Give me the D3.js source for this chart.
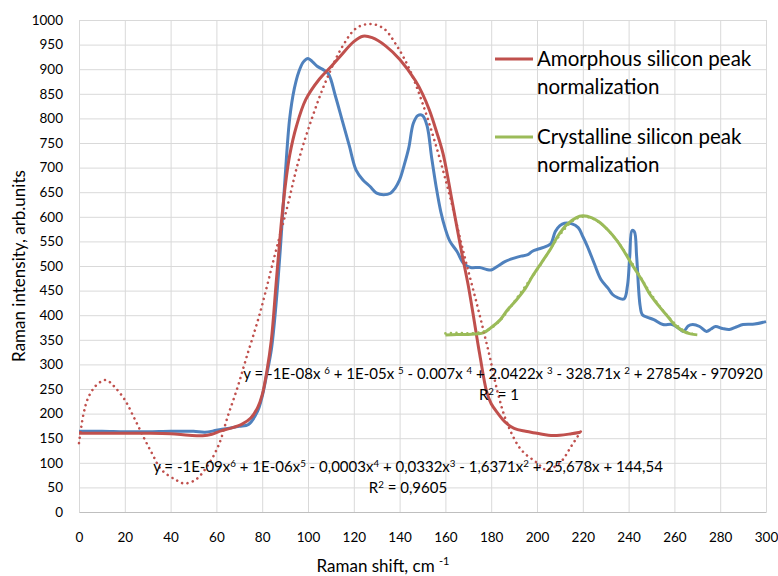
<!DOCTYPE html>
<html>
<head>
<meta charset="utf-8">
<script src="https://cdn.jsdelivr.net/npm/d3@7"></script>
<style>
  body { margin: 0; background: #fff; }
  text { font-family: Lato, "Open Sans", sans-serif; fill: #000; }
</style>
</head>
<body>
<div id="container"></div>
<script>
const width = 778,
  height = 576,
  margin = { top: 20, right: 12, bottom: 64, left: 79 };

// measured spectrum (blue)
const measuredX = [0, 10, 20, 30, 40, 50, 55, 60, 65, 70, 74, 78, 80, 82, 84, 86, 88, 90, 92, 94, 96, 98, 100, 102, 104, 107, 109, 112, 115, 118, 121, 124, 127, 130, 133, 136, 138, 140, 142, 144, 146, 148, 150, 152, 154, 156, 158, 160, 162, 165, 168, 171, 175, 178, 180, 183, 186, 190, 193, 196, 198, 201, 204, 206, 208, 210, 212, 215, 218, 220, 222, 225, 228, 231, 233, 235, 238, 239.5, 240.5, 241.5, 242.5, 243.5, 245, 246, 248, 251, 255, 259, 262, 264, 266, 268, 271, 274, 276, 278, 281, 284, 287, 290, 295, 300];
const measuredY = [164, 164, 163, 163, 164, 164, 162, 166, 170, 174, 178, 205, 235, 280, 330, 420, 540, 680, 800, 860, 895, 915, 922, 915, 906, 898, 890, 845, 795, 745, 695, 675, 662, 648, 645, 648, 658, 675, 705, 740, 790, 806, 806, 785, 720, 660, 610, 575, 550, 530, 505, 497, 497, 493, 492, 500, 509, 516, 520, 523, 530, 535, 540, 545, 570, 582, 587, 586, 578, 560, 540, 505, 472, 455, 442, 436, 433, 460, 520, 572, 570, 520, 420, 401, 396, 391, 381, 381, 373, 367, 378, 381, 377, 367, 372, 377, 373, 371, 376, 381, 382, 387];

// amorphous silicon peak normalization (red)
const amorphX = [0, 10, 20, 30, 40, 48, 54, 58, 62, 66, 71, 75, 78, 80, 82, 84, 86, 88, 90, 92, 95, 99, 105, 110, 114, 120, 124, 128, 134, 140, 147, 150, 153, 156, 159, 163, 167, 170, 172, 175, 178, 180, 183, 186, 190, 195, 200, 205, 210, 215, 219];
const amorphY = [160, 160, 160, 160, 159, 156, 155, 158, 165, 170, 178, 191, 212, 238, 285, 350, 460, 570, 660, 725, 785, 838, 880, 905, 926, 956, 967, 964, 947, 920, 876, 850, 817, 775, 728, 630, 530, 460, 405, 320, 245, 220, 200, 183, 170, 164, 160, 156, 156, 159, 162];

// amorphous trendline (red dotted)
const amorphTrendX = [0, 2, 4, 7, 10, 12, 15, 20, 24, 28, 32, 36, 42, 46, 51, 56, 61, 65, 69, 73, 79, 85, 91, 96, 102, 108, 115, 121, 127, 133, 139, 144.5, 150, 156, 162, 168, 174, 179, 183, 187, 193, 200, 204, 210, 215, 220];
const amorphTrendY = [140, 200, 232, 255, 266, 268, 257, 228, 192, 154, 118, 86, 66, 58, 66, 93, 136, 195, 250, 312, 404, 513, 621, 716, 804, 878, 946, 983, 992, 983, 946, 898, 831, 743, 641, 526, 418, 323, 240, 180, 127, 100, 86, 100, 134, 170];

// crystalline silicon peak normalization (green)
const crystX = [160, 165, 170, 176.5, 180, 184, 187, 191, 195, 198, 202, 206, 209, 213, 217, 220, 224, 227, 231, 235, 238, 242, 246, 249, 253, 257, 260, 264, 267, 270];
const crystY = [360, 361, 361, 364, 375, 391, 410, 431, 455, 479, 507, 535, 560, 584, 598, 602, 598, 590, 573, 551, 530, 499, 470, 445, 420, 398, 381, 367, 362, 360];

// crystalline trendline (green dotted)
const crystTrendX = [160, 165, 170, 176, 180, 184, 188, 192, 196, 200, 204, 208, 212, 216, 220, 224, 228, 232, 236, 240, 244, 248, 252, 256, 260, 264, 267, 270];
const crystTrendY = [363, 364, 363, 366, 374, 390, 414, 440, 466, 492, 521, 550, 575, 593, 600, 597, 586, 568, 545, 517, 487, 456, 428, 404, 384, 369, 363, 361];

const xTicks = d3.range(0, 301, 20);
const yTicks = d3.range(0, 1001, 50);

const legendItems = [
  { label: ["Amorphous silicon peak", "normalization"], color: "#C0504D" },
  { label: ["Crystalline silicon peak", "normalization"], color: "#9BBB59" }
];

const eqAmorph = ["y = -1E-08x ", "6", " + 1E-05x ", "5", " - 0.007x ", "4", " + 2.0422x ", "3", " - 328.71x ", "2", " + 27854x - 970920"];
const r2Amorph = ["R", "2", " = 1"];
const eqCryst = ["y = -1E-09x", "6", " + 1E-06x", "5", " - 0,0003x", "4", " + 0,0332x", "3", " - 1,6371x", "2", " + 25,678x + 144,54"];
const r2Cryst = ["R", "2", " = 0,9605"];

const zip = (xs, ys) => xs.map((x, i) => ({ x: x, y: ys[i] }));

const svg = d3.select("#container")
  .append("svg")
  .attr("width", width)
  .attr("height", height);

const xScale = d3.scaleLinear()
  .domain([0, 300])
  .range([margin.left, width - margin.right]);

const yScale = d3.scaleLinear()
  .domain([0, 1000])
  .range([height - margin.bottom, margin.top]);

// gridlines
svg.append("g")
  .attr("transform", `translate(0, ${height - margin.bottom})`)
  .call(d3.axisBottom(xScale).tickValues(xTicks).tickSize(-(height - margin.top - margin.bottom)).tickFormat(""))
  .call(g => g.select(".domain").remove())
  .call(g => g.selectAll("line").attr("stroke", "#d9d9d9"));

svg.append("g")
  .attr("transform", `translate(${margin.left}, 0)`)
  .call(d3.axisLeft(yScale).tickValues(yTicks).tickSize(-(width - margin.left - margin.right)).tickFormat(""))
  .call(g => g.select(".domain").remove())
  .call(g => g.selectAll("line").attr("stroke", "#d9d9d9"));

// axes with labels
const xAxisGroup = svg.append("g")
  .attr("transform", `translate(0, ${height - margin.bottom})`)
  .call(d3.axisBottom(xScale).tickValues(xTicks).tickSize(0).tickPadding(20).tickFormat(d3.format("d")))
  .call(g => g.select(".domain").attr("stroke", "#bfbfbf"));
xAxisGroup.selectAll("text")
  .attr("font-size", 13.5)
  .attr("font-family", "Lato")
  .attr("fill", "#595959");

const yAxisGroup = svg.append("g")
  .attr("transform", `translate(${margin.left}, 0)`)
  .call(d3.axisLeft(yScale).tickValues(yTicks).tickSize(0).tickPadding(16).tickFormat(d3.format("d")))
  .call(g => g.select(".domain").attr("stroke", "#d9d9d9"));
yAxisGroup.selectAll("text")
  .attr("font-size", 13.5)
  .attr("font-family", "Lato")
  .attr("fill", "#595959");

// axis titles
const xTitle = svg.append("text")
  .attr("x", 383)
  .attr("y", 572)
  .attr("text-anchor", "middle")
  .attr("font-size", 17)
  .attr("fill", "#000");
xTitle.append("tspan").text("Raman shift, cm ");
xTitle.append("tspan").attr("font-size", 11).attr("dy", -7).text("-1");

svg.append("text")
  .attr("transform", `translate(25, 266) rotate(-90)`)
  .attr("text-anchor", "middle")
  .attr("font-size", 17)
  .text("Raman intensity, arb.units");

// series
const lineGen = d3.line()
  .x(d => xScale(d.x))
  .y(d => yScale(d.y))
  .curve(d3.curveCatmullRom.alpha(0.5));

svg.append("path")
  .datum(zip(measuredX, measuredY))
  .attr("fill", "none")
  .attr("stroke", "#4F81BD")
  .attr("stroke-width", 3)
  .attr("d", lineGen);

svg.append("path")
  .datum(zip(amorphX, amorphY))
  .attr("fill", "none")
  .attr("stroke", "#C0504D")
  .attr("stroke-width", 3)
  .attr("d", lineGen);

svg.append("path")
  .datum(zip(crystX, crystY))
  .attr("fill", "none")
  .attr("stroke", "#9BBB59")
  .attr("stroke-width", 3)
  .attr("d", lineGen);

svg.append("path")
  .datum(zip(amorphTrendX, amorphTrendY))
  .attr("fill", "none")
  .attr("stroke", "#C0504D")
  .attr("stroke-width", 2.6)
  .attr("stroke-linecap", "round")
  .attr("stroke-dasharray", "0.01 5.5")
  .attr("d", lineGen);

svg.append("path")
  .datum(zip(crystTrendX, crystTrendY))
  .attr("fill", "none")
  .attr("stroke", "#9BBB59")
  .attr("stroke-width", 2.6)
  .attr("stroke-linecap", "round")
  .attr("stroke-dasharray", "0.01 5.5")
  .attr("d", lineGen);

// trendline labels, odd parts are superscripts
function supText(x, y, parts, size) {
  const t = svg.append("text")
    .attr("x", x)
    .attr("y", y)
    .attr("text-anchor", "middle")
    .attr("font-size", size);
  parts.forEach((p, i) => {
    if (i % 2 === 1) {
      t.append("tspan").attr("font-size", size * 0.65).attr("dy", -5).text(p);
    } else {
      t.append("tspan").attr("dy", i === 0 ? 0 : 5).text(p);
    }
  });
  return t;
}

supText(503, 379, eqAmorph, 15);
supText(499, 400, r2Amorph, 15);
supText(408, 472, eqCryst, 15);
supText(408, 493, r2Cryst, 15);

// legend
const legend = svg.append("g");
legendItems.forEach((item, i) => {
  const y0 = 59 + i * 78;
  legend.append("line")
    .attr("x1", 495).attr("x2", 533)
    .attr("y1", y0).attr("y2", y0)
    .attr("stroke", item.color)
    .attr("stroke-width", 3);
  item.label.forEach((line, j) => {
    legend.append("text")
      .attr("x", 537)
      .attr("y", y0 + 7 + j * 28)
      .attr("font-size", 20.5)
      .text(line);
  });
});
</script>
</body>
</html>
